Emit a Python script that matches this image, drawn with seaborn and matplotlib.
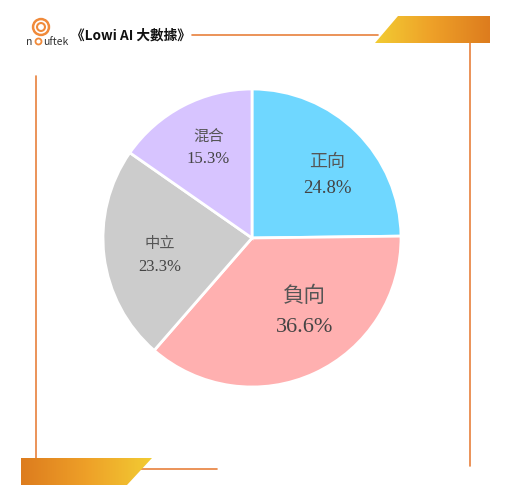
import numpy as np
import seaborn as sns
import matplotlib.pyplot as plt
from matplotlib.patches import Polygon, Circle
from matplotlib.colors import LinearSegmentedColormap

# data
labels = ["正向", "負向", "中立", "混合"]
shares = [24.8, 36.6, 23.3, 15.3]
colors = ["#6fd7ff", "#ffb0b0", "#cccccc", "#d7c4ff"]
name_sizes = [13, 15.5, 11, 11]
pct_sizes = [13.5, 16, 12, 12]
# label layout tweaks (radius fraction, angle nudge in degrees)
label_r = [0.66, 0.60, 0.63, 0.68]
label_nudge = [-5, 11, 3, -2]
title = "《Lowi AI 大數據》"

sns.set_theme(style="white")
plt.rcParams['font.family'] = ['Noto Sans CJK TC', 'DejaVu Sans']

W, H = 514, 502
fig = plt.figure(figsize=(W / 100, H / 100), dpi=100)

# decoration layer in pixel coords
bg = fig.add_axes([0, 0, 1, 1])
bg.set_xlim(0, W)
bg.set_ylim(H, 0)
bg.axis("off")

orange = "#e8803c"
bg.plot([192, 378], [36, 36], color=orange, lw=1.2)
bg.plot([470, 470], [44, 467], color=orange, lw=1.2)
bg.plot([36, 36], [77, 459], color=orange, lw=1.2)
bg.plot([140, 217], [470, 470], color=orange, lw=1.2)

grad_r = LinearSegmentedColormap.from_list("g1", ["#f2cc33", "#eea028", "#dd7c1e"])
grad_l = LinearSegmentedColormap.from_list("g2", ["#dd7c1e", "#eea028", "#f2cc33"])
g = np.linspace(0, 1, 256).reshape(1, -1)

top_poly = Polygon([[375, 44], [398, 17], [490, 17], [490, 44]], closed=True,
                   facecolor="none", edgecolor="none")
bg.add_patch(top_poly)
im = bg.imshow(g, cmap=grad_r, extent=[375, 490, 44, 17], aspect="auto", zorder=2)
im.set_clip_path(top_poly)

bot_poly = Polygon([[21, 459], [152, 459], [127, 486], [21, 486]], closed=True,
                   facecolor="none", edgecolor="none")
bg.add_patch(bot_poly)
im2 = bg.imshow(g, cmap=grad_l, extent=[21, 152, 486, 459], aspect="auto", zorder=2)
im2.set_clip_path(bot_poly)
bg.set_xlim(0, W)
bg.set_ylim(H, 0)

# logo
for r, c in [(8.5, "#f08a3a"), (6, "white"), (4.3, "#f08a3a"), (2.2, "white")]:
    bg.add_patch(Circle((41, 28), r, color=c, zorder=3))
bg.text(26, 42, "n", fontsize=7.5, color="#333333", va="center", ha="left")
bg.add_patch(Circle((38.5, 42.5), 3, fill=False, ec="#f08a3a", lw=1.3, zorder=3))
bg.text(43, 42, "uftek", fontsize=7.5, color="#333333", va="center", ha="left")
bg.text(71, 36, title, fontsize=9.8, fontweight="bold", color="#111111",
        va="center", ha="left")

# pie
cx, cy, R = 252, 239, 149
ax = fig.add_axes([(cx - R) / W, (H - cy - R) / H, 2 * R / W, 2 * R / H])
wedges, _ = ax.pie(shares, colors=colors, startangle=90, counterclock=False,
                   wedgeprops=dict(edgecolor="white", linewidth=2))
ax.set_xlim(-1, 1)
ax.set_ylim(-1, 1)
ax.axis("off")

for w, name, val, ns, ps, lr, nd in zip(wedges, labels, shares, name_sizes,
                                        pct_sizes, label_r, label_nudge):
    mid = np.deg2rad((w.theta1 + w.theta2) / 2 + nd)
    x, y = lr * np.cos(mid), lr * np.sin(mid)
    sep = 0.72 * (ns + ps)
    ax.annotate(name, (x, y), xytext=(0, sep / 2), textcoords="offset points",
                ha="center", va="center", fontsize=ns, color="#555555")
    ax.annotate(f"{val}%", (x, y), xytext=(0, -sep / 2), textcoords="offset points",
                ha="center", va="center", fontsize=ps, color="#444444",
                family="Liberation Serif")

fig.savefig("out.png", dpi=100)
